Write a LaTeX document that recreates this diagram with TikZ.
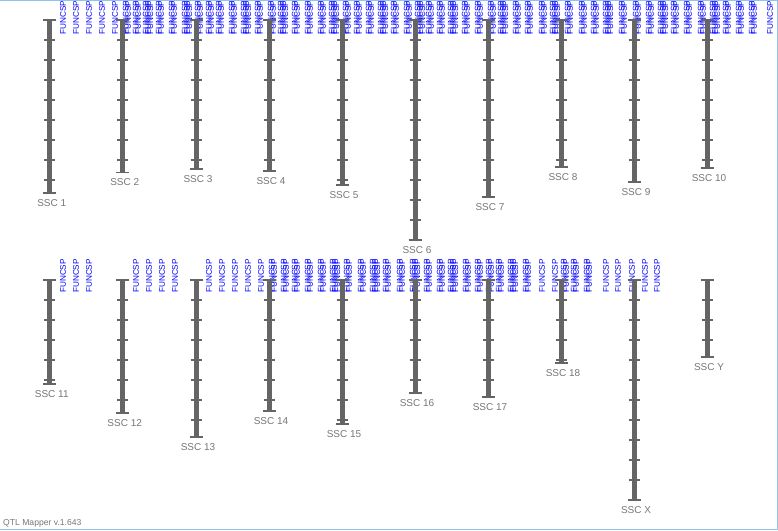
\documentclass[tikz,border=0pt]{standalone}
\usepackage{fontspec}
\setmainfont{Liberation Sans}
\definecolor{bargray}{HTML}{656565}
\definecolor{txtgray}{HTML}{767676}
\definecolor{framebl}{HTML}{8EC3EA}
\begin{document}
\begin{tikzpicture}[x=1pt,y=-1pt,
    chrom/.style={bargray, line width=5pt},
    endcap/.style={bargray, line width=1.5pt},
    tickmark/.style={bargray, line width=1.1pt},
    ssc/.style={txtgray, font=\fontsize{10}{12}\selectfont, inner sep=0pt},
    marker/.style={blue, font=\fontsize{8.2}{10}\selectfont, rotate=90, anchor=west, inner sep=0pt}]
    \useasboundingbox (0,0) rectangle (778,530);
    \clip (0,0) rectangle (778,530);
    \foreach \x/\c [count=\i] in {63/1,76/1,89/1,102/1,115/1,127/2,137/2,148/3,160/2,173/2,187/3,199/2,210/2,220/2,233/2,246/3,259/2,272/2,283/3,296/2,309/2,322/2,334/3,347/2,358/2,370/2,383/3,395/2,408/2,420/3,430/2,441/2,453/3,466/2,479/2,492/2,503/3,517/2,529/2,543/2,555/3,569/2,583/2,595/2,608/3,623/2,637/2,650/2,663/3,675/2,688/2,702/2,715/3,727/2,740/2,753/2,770/1}
        \foreach \j in {1,...,\c}
            \node[marker] (mt\i-\j) at (\x+2.2*\j-1.1*\c-1.1,34.5) {FUNCSP};
    \foreach \x/\c [count=\i] in {63/1,76/1,89/1,136/1,149/1,162/1,175/1,209/1,222/1,235/1,248/1,261/1,273/2,285/2,296/2,309/2,322/2,335/3,348/2,362/2,375/3,387/2,401/2,415/3,428/2,441/2,453/3,467/2,479/2,490/2,500/2,513/3,527/2,542/1,555/1,565/2,575/2,588/2,606/1,618/1,632/1,645/1,657/1}
        \foreach \j in {1,...,\c}
            \node[marker] (mb\i-\j) at (\x+2.2*\j-1.1*\c-1.1,293) {FUNCSP};
    \foreach \n/\x/\ya/\yb in {1/49.7/20/193, 2/122.7/20/172.5, 3/196/20/169, 4/269/20/171, 5/342/20/185,
            6/415/20/240, 7/488/20/197, 8/561/20/167, 9/634/20/182, 10/707/20/168,
            11/49.7/280/384, 12/122.7/280/413, 13/196/280/437, 14/269/280/411, 15/342/280/424,
            16/415/280/393, 17/488/280/397, 18/561/280/363, X/634/280/500, Y/707/280/357} {
        \draw[chrom] (\x,\ya) -- (\x,\yb);
        \draw[endcap] (\x-6.5,\ya) -- (\x+6.5,\ya);
        \draw[endcap] (\x-6.5,\yb) -- (\x+6.5,\yb);
        \pgfmathtruncatemacro\nt{(\yb-\ya-3)/20}
        \foreach \k in {1,...,\nt}
            \draw[tickmark] (\x-5.5,\ya+20*\k) -- (\x+5.5,\ya+20*\k);
        \node[ssc] (ssc\n) at (\x+2,\yb+10) {SSC \n};
    }
    \node[txtgray, font=\fontsize{8.6}{10}\selectfont, inner sep=0pt, anchor=base west] (version) at (3,525) {QTL Mapper v.1.643};
    \draw[framebl, line width=1pt] (0,0.5) -- (777.5,0.5) -- (777.5,529.5) -- (0,529.5);
\end{tikzpicture}
\end{document}
